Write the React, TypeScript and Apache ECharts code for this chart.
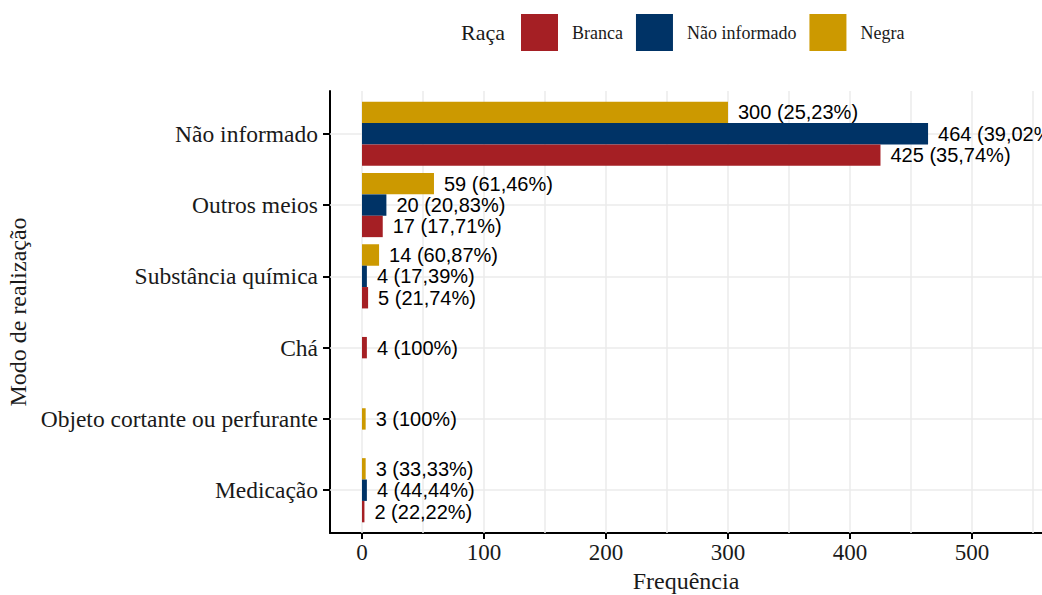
import React, { useEffect, useRef } from 'react';
import * as echarts from 'echarts';

// ---- data (categories listed bottom to top) ----
const categories = [
  'Medicação',
  'Objeto cortante ou perfurante',
  'Chá',
  'Substância química',
  'Outros meios',
  'Não informado',
];
const raceNames = ['Branca', 'Não informado', 'Negra'];
const raceColors = ['#A51F24', '#003366', '#CC9900'];

const brancaValues = [2, null, 4, 5, 17, 425];
const brancaPct = [22.22, null, 100, 21.74, 17.71, 35.74];
const naoInformadoValues = [4, null, null, 4, 20, 464];
const naoInformadoPct = [44.44, null, null, 17.39, 20.83, 39.02];
const negraValues = [3, 3, null, 14, 59, 300];
const negraPct = [33.33, 100, null, 60.87, 61.46, 25.23];

const xMajorTicks = [0, 100, 200, 300, 400, 500];
const xMinorTicks = [50, 150, 250, 350, 450, 550];

const SERIF = "'Liberation Serif', 'Times New Roman', serif";
const SANS = "'Liberation Sans', Arial, sans-serif";
const TEXT = '#1a1a1a';

const fmtPct = (p: number) =>
  Number.isInteger(p) ? String(p) : p.toFixed(2).replace('.', ',');

export default function App() {
  const ref = useRef<HTMLDivElement>(null);

  useEffect(() => {
    if (!ref.current) return;
    const chart = echarts.init(ref.current, undefined, { renderer: 'svg' });

    // layout
    const W = 1042;
    const GRID_LEFT = 330;
    const PANEL_TOP = 91;
    const PANEL_H = 442;
    const unit = PANEL_H / 6.2; // ggplot discrete expansion 0.6 each side
    const X_MIN = -26.23;
    const X_MAX = 557.4;
    const barW = 0.3 * unit;

    const valuesByRace = [brancaValues, naoInformadoValues, negraValues];
    const pctByRace = [brancaPct, naoInformadoPct, negraPct];
    const presentCount = categories.map(
      (_, i) => valuesByRace.filter((v) => v[i] != null).length
    );

    const labelBase = {
      show: true,
      position: 'right',
      distance: 10,
      fontFamily: SANS,
      fontSize: 20,
      color: '#000',
    };

    // series drawn top-to-bottom within a band: Negra, Não informado, Branca
    const drawOrder = [2, 1, 0];
    const groupedSeries = drawOrder.map((r) => ({
      name: raceNames[r],
      type: 'bar',
      xAxisIndex: 0,
      yAxisIndex: 0,
      barWidth: barW,
      barGap: '0%',
      z: 10,
      itemStyle: { color: raceColors[r] },
      data: categories.map((_, i) =>
        presentCount[i] > 1 ? valuesByRace[r][i] : null
      ),
      label: {
        ...labelBase,
        formatter: (p: any) =>
          `${p.value} (${fmtPct(pctByRace[r][p.dataIndex] as number)}%)`,
      },
    }));

    const singleData = categories.map((_, i) => {
      if (presentCount[i] !== 1) return null;
      const r = valuesByRace.findIndex((v) => v[i] != null);
      return {
        value: valuesByRace[r][i],
        itemStyle: { color: raceColors[r] },
        pct: pctByRace[r][i],
      };
    });

    const singleSeries = {
      name: 'single',
      type: 'bar',
      xAxisIndex: 0,
      yAxisIndex: 1,
      barWidth: barW,
      z: 10,
      data: singleData.map((d) =>
        d ? { value: d.value, itemStyle: d.itemStyle } : null
      ),
      label: {
        ...labelBase,
        formatter: (p: any) =>
          `${p.value} (${fmtPct(singleData[p.dataIndex]!.pct as number)}%)`,
      },
    };

    const gridLineSeries = {
      name: 'grid',
      type: 'line',
      xAxisIndex: 1,
      yAxisIndex: 2,
      data: [],
      z: 1,
      silent: true,
      markLine: {
        silent: true,
        z: 1,
        symbol: ['none', 'none'],
        label: { show: false },
        lineStyle: { color: '#EBEBEB', width: 1.5, type: 'solid' },
        data: [
          ...xMajorTicks.map((v) => ({ xAxis: v })),
          ...xMinorTicks.map((v) => ({ xAxis: v })),
          ...categories.map((_, i) => ({ yAxis: i })),
        ],
      },
    };

    const axisLineStyle = { color: '#000', width: 2 };
    const catIdx = categories.map((_, i) => i);

    chart.setOption({
      animation: false,
      backgroundColor: '#fff',
      title: {
        text: 'Raça',
        left: 461,
        top: 21,
        padding: 0,
        textStyle: {
          fontFamily: SERIF,
          fontSize: 22,
          fontWeight: 'normal',
          color: TEXT,
        },
      },
      legend: {
        data: raceNames,
        left: 521,
        top: 14,
        padding: 0,
        itemWidth: 37,
        itemHeight: 37,
        itemGap: 13,
        icon: 'rect',
        selectedMode: false,
        textStyle: {
          fontFamily: SERIF,
          fontSize: 18,
          color: TEXT,
          padding: [0, 0, 0, 9],
        },
      },
      grid: [
        {
          left: GRID_LEFT,
          width: W - GRID_LEFT,
          top: PANEL_TOP + 0.1 * unit,
          height: 6 * unit,
          containLabel: false,
          outerBoundsMode: 'none',
        },
        {
          left: GRID_LEFT,
          width: W - GRID_LEFT,
          top: PANEL_TOP,
          height: PANEL_H,
          containLabel: false,
          outerBoundsMode: 'none',
        },
      ],
      xAxis: [
        { gridIndex: 0, type: 'value', min: X_MIN, max: X_MAX, show: false },
        {
          gridIndex: 1,
          type: 'value',
          min: X_MIN,
          max: X_MAX,
          axisLine: { show: true, onZero: false, lineStyle: axisLineStyle },
          axisTick: {
            show: true,
            length: 6,
            customValues: xMajorTicks,
            lineStyle: axisLineStyle,
          },
          axisLabel: {
            customValues: xMajorTicks,
            fontFamily: SERIF,
            fontSize: 23,
            color: TEXT,
            margin: 8,
          },
          splitLine: { show: false },
          name: 'Frequência',
          nameLocation: 'middle',
          nameGap: 31,
          nameTextStyle: { fontFamily: SERIF, fontSize: 24, color: TEXT },
        },
      ],
      yAxis: [
        { gridIndex: 0, type: 'category', data: categories, show: false },
        { gridIndex: 0, type: 'category', data: categories, show: false },
        {
          gridIndex: 1,
          type: 'value',
          min: -0.6,
          max: 5.6,
          axisLine: { show: true, onZero: false, lineStyle: axisLineStyle },
          axisTick: {
            show: true,
            length: 7,
            customValues: catIdx,
            lineStyle: axisLineStyle,
          },
          axisLabel: {
            customValues: catIdx,
            formatter: (v: number) => categories[Math.round(v)],
            fontFamily: SERIF,
            fontSize: 23.5,
            color: TEXT,
            margin: 12,
          },
          splitLine: { show: false },
          name: 'Modo de realização',
          nameLocation: 'middle',
          nameGap: 272,
          nameRotate: 90,
          nameTextStyle: { fontFamily: SERIF, fontSize: 24, color: TEXT },
        },
      ],
      series: [gridLineSeries, ...groupedSeries, singleSeries],
    });

    return () => chart.dispose();
  }, []);

  return (
    <div
      ref={ref}
      style={{ position: 'absolute', left: 0, top: 0, width: 1042, height: 595 }}
    />
  );
}
